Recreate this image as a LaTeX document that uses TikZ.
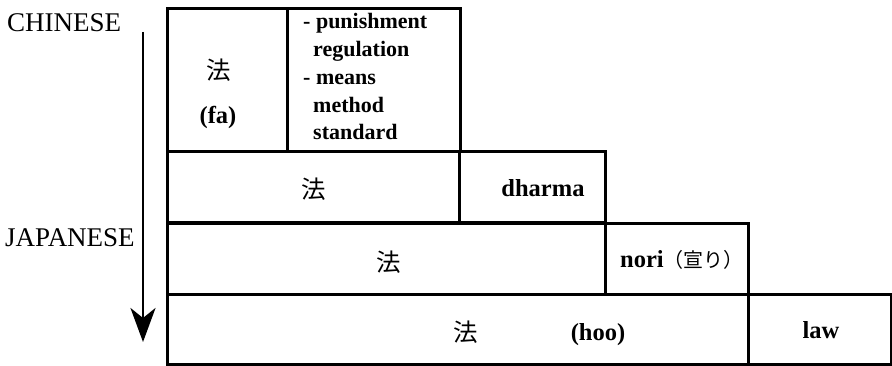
\documentclass[tikz,border=0pt]{standalone}
\usepackage{fontspec}
\setmainfont{Liberation Serif}
\newfontfamily\cjk{Noto Sans CJK JP}
\usetikzlibrary{arrows.meta}

\tikzset{
  cell/.style={draw=black, line width=3pt, rectangle, anchor=north west,
    inner sep=0pt, outer sep=0pt},
  lang/.style={inner sep=0pt, anchor=base west, font=\fontsize{27}{30}\selectfont},
  word/.style={inner sep=0pt, font=\bfseries\fontsize{24.5}{28}\selectfont},
  sense/.style={inner sep=0pt, anchor=base west, font=\bfseries\fontsize{22}{28}\selectfont},
  kanji/.style={inner sep=0pt, font=\cjk\fontsize{24.5}{28}\selectfont},
  timeline/.style={line width=2.6pt, -{Stealth[length=34pt,width=25pt,inset=10pt]}}
}

\begin{document}
\begin{tikzpicture}[x=1pt, y=-1pt]
  \useasboundingbox (0,0) rectangle (892,366);

  % row 1: Chinese fa
  \node[cell, minimum width=120pt, minimum height=143pt] (r1a) at (167,9) {};
  \node[cell, minimum width=173pt, minimum height=143pt] (r1b) at (287,9) {};
  % row 2: fa + dharma
  \node[cell, minimum width=292pt, minimum height=71pt] (r2a) at (167,152) {};
  \node[cell, minimum width=146pt, minimum height=71pt] (r2b) at (459,152) {};
  % row 3: hoo + nori
  \node[cell, minimum width=438pt, minimum height=71pt] (r3a) at (167,224) {};
  \node[cell, minimum width=143pt, minimum height=71pt] (r3b) at (605,224) {};
  % row 4: hoo + law
  \node[cell, minimum width=581pt, minimum height=69pt] (r4a) at (167,295) {};
  \node[cell, minimum width=143pt, minimum height=69pt] (r4b) at (748,295) {};

  % language labels and the time arrow
  \node[lang] (chinese) at (7,32) {CHINESE};
  \node[lang] (japanese) at (5,247) {JAPANESE};
  \coordinate (tstart) at (143,32);
  \coordinate (tend) at (143,342);
  \draw[timeline] (tstart) -- (tend);

  % row 1 contents
  \node[kanji] (fa1) at (219,70) {法};
  \node[word] (fa) at (218,117) {(fa)};
  \node[sense] (s1) at (303,29) {- punishment};
  \node[sense] (s2) at (313,57) {regulation};
  \node[sense] (s3) at (303,85) {- means};
  \node[sense] (s4) at (313,113) {method};
  \node[sense] (s5) at (313,140) {standard};

  % row 2 contents
  \node[kanji] (fa2) at (314,189) {法};
  \node[word, anchor=base] (dharma) at (543,197) {dharma};

  % row 3 contents
  \node[kanji] (fa3) at (389,262) {法};
  \node[word, anchor=base west] (nori) at (620,268)
    {nori{\cjk\mdseries\fontsize{20}{24}\selectfont （宣り）}};

  % row 4 contents
  \node[kanji] (fa4) at (466,332) {法};
  \node[word, anchor=base] (hoo) at (598,340) {(hoo)};
  \node[word, anchor=base] (law) at (821,338) {law};
\end{tikzpicture}
\end{document}
